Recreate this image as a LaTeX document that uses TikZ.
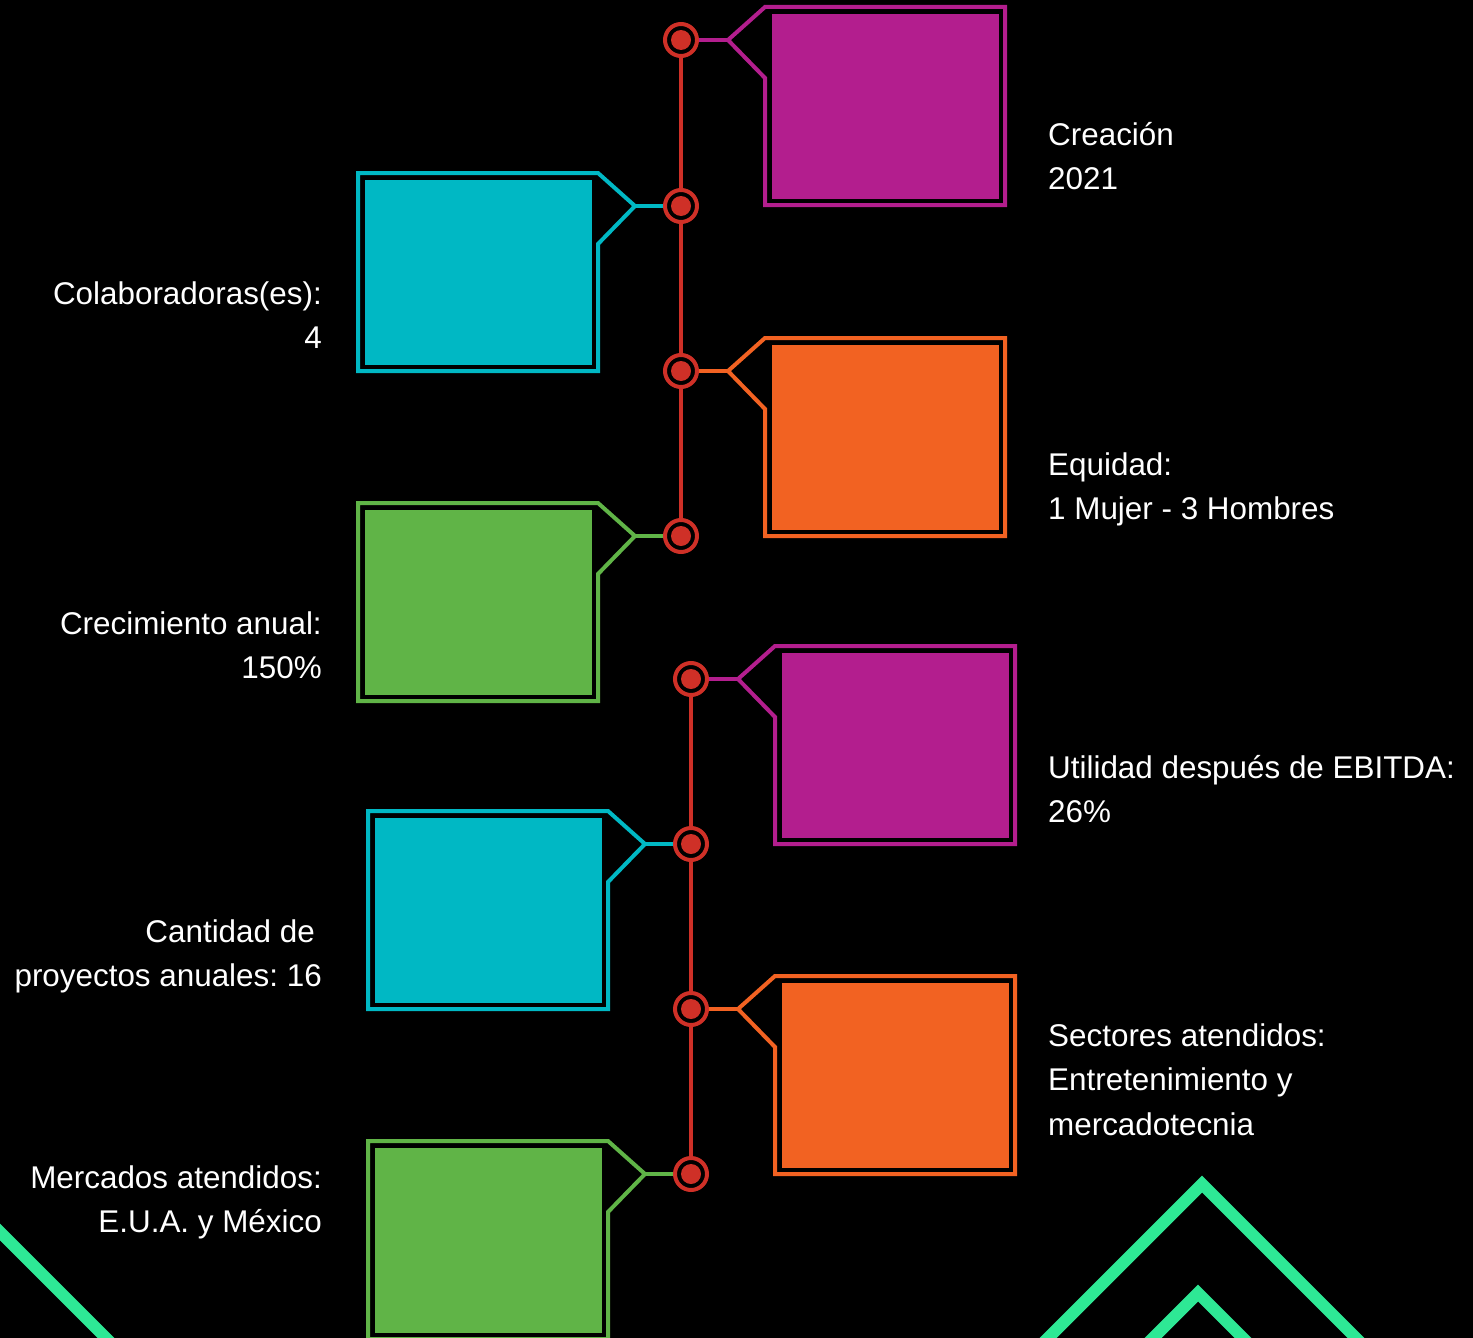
\documentclass[tikz,border=0pt]{standalone}
\usepackage{fontspec}
\setmainfont{Liberation Sans}
\definecolor{tlpurple}{HTML}{B31E8E}
\definecolor{tlcyan}{HTML}{00B8C4}
\definecolor{tlorange}{HTML}{F26222}
\definecolor{tlgreen}{HTML}{60B447}
\definecolor{tlred}{HTML}{CF3027}
\definecolor{tlneon}{HTML}{2EE895}
\tikzset{
	panel/.style={minimum width=227pt, minimum height=185pt, inner sep=0pt},
	frame/.style={line width=4pt, line join=miter},
	knot/.style={circle, draw=tlred, fill=black, line width=4pt, minimum size=32pt, inner sep=0pt,
		path picture={\fill[tlred] (path picture bounding box.center) circle (10pt);}},
	rail/.style={draw=tlred, line width=4pt},
	caption/.style={text=white, font=\fontsize{31.4}{44.5}\selectfont\frenchspacing, inner sep=0pt},
	neon/.style={draw=tlneon, line width=12pt, line join=miter},
}
\begin{document}
\begin{tikzpicture}[x=1pt, y=-1pt]
	\useasboundingbox (0,0) rectangle (1473,1338);
	\fill[black] (0,0) rectangle (1473,1338);

	% background stripes
	\draw[neon] (-20,1212) -- (126,1358);
	\draw[neon] (1028,1358) -- (1202,1184) -- (1376,1358);
	\draw[neon] (1133,1358) -- (1198,1293) -- (1263,1358);

	% timeline knots
	\foreach \n/\x/\y in {1/681/40, 2/681/206, 3/681/371, 4/681/536,
		5/691/679, 6/691/844, 7/691/1009, 8/691/1174}
		\node[knot] (c\n) at (\x,\y) {};

	\draw[rail] (c1) -- (c2) (c2) -- (c3) (c3) -- (c4);
	\draw[rail] (c5) -- (c6) (c6) -- (c7) (c7) -- (c8);

	% callouts on the right
	\foreach \n/\L/\T/\col in {1/765/7/tlpurple, 3/765/338/tlorange,
		5/775/646/tlpurple, 7/775/976/tlorange}{
		\node[panel, fill=\col] (box\n) at (\L+120.5,\T+99.5) {};
		\draw[frame, draw=\col] (\L-37,\T+33) coordinate (tip\n) -- (\L,\T) -- ++(240,0)
			-- ++(0,198) -- ++(-240,0) -- (\L,\T+71) -- cycle;
		\draw[frame, draw=\col] (c\n) -- (tip\n);
	}

	% callouts on the left
	\foreach \n/\L/\T/\col in {2/358/173/tlcyan, 4/358/503/tlgreen,
		6/368/811/tlcyan, 8/368/1141/tlgreen}{
		\node[panel, fill=\col] (box\n) at (\L+120.5,\T+99.5) {};
		\draw[frame, draw=\col] (\L+277,\T+33) coordinate (tip\n) -- (\L+240,\T) -- ++(-240,0)
			-- ++(0,198) -- ++(240,0) -- (\L+240,\T+71) -- cycle;
		\draw[frame, draw=\col] (c\n) -- (tip\n);
	}

	% captions (anchored on their last line)
	\node[caption, anchor=base west, align=left] (t1) at (1048,189.5) {Creación\\2021};
	\node[caption, anchor=base east, align=right] (t2) at (322,348.5) {Colaboradoras(es):\\4};
	\node[caption, anchor=base west, align=left] (t3) at (1048,519.5) {Equidad:\\1 Mujer - 3 Hombres};
	\node[caption, anchor=base east, align=right] (t4) at (322,678.5) {Crecimiento anual:\\150\%};
	\node[caption, anchor=base west, align=left] (t5) at (1048,822.5) {Utilidad después de EBITDA:\\26\%};
	\node[caption, anchor=base east, align=right] (t6) at (322,986.5) {Cantidad de\kern7pt\\proyectos anuales: 16};
	\node[caption, anchor=base west, align=left] (t7) at (1048,1135) {Sectores atendidos:\\Entretenimiento y\\mercadotecnia};
	\node[caption, anchor=base east, align=right] (t8) at (322,1232.5) {Mercados atendidos:\\E.U.A. y México};
\end{tikzpicture}
\end{document}
